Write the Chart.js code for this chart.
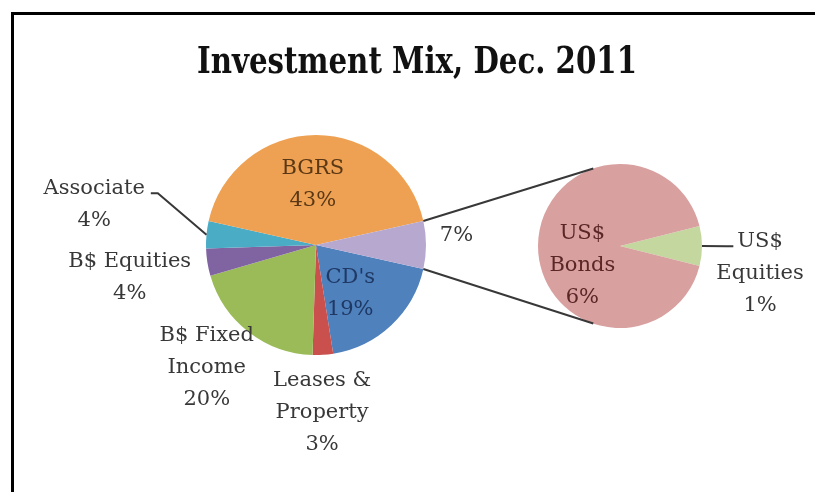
<!DOCTYPE html>
<html>
<head>
<meta charset="utf-8">
<script src="https://cdn.jsdelivr.net/npm/chart.js@4"></script>
<style>
  body { margin: 0; background: #fff; }
  #wrap { position: relative; width: 815px; height: 492px; overflow: hidden; }
  #frame { position: absolute; left: 11px; top: 12px; width: 900px; height: 600px;
           border-left: 3px solid #000; border-top: 3px solid #000; }
  canvas { position: absolute; left: 0; top: 0; }
</style>
</head>
<body>
<div id="wrap">
  <div id="frame"></div>
  <canvas id="main" width="815" height="492"></canvas>
  <canvas id="detail" width="815" height="492"></canvas>
</div>
<script>
// main pie, clockwise starting just below the "other" slice
const mixLabels = ["CD's", "Leases &\nProperty", "B$ Fixed\nIncome", "B$ Equities", "Associate", "BGRS", ""];
const mixValues = [19, 3, 20, 4, 4, 43, 7];
const mixColors = ["#4f81bd", "#c9504d", "#9bbb59", "#8064a2", "#4bacc6", "#eea152", "#b7a8d0"];

// second pie splits the 7% "other" slice
const usLabels = ["US$\nEquities", "US$\nBonds"];
const usValues = [0.55, 6.45];
const usColors = ["#c4d79e", "#d9a0a0"];

const chartTitle = "Investment Mix, Dec. 2011";

// label placement: distance as fraction of radius, angle shift in degrees from slice middle
const mixPlace = [
  { dist: 0.54, shift: 8, color: "#1f3864" },
  { dist: 1.52, shift: 1.5 },
  { dist: 1.49, shift: 4 },
  { dist: 1.72, shift: -1 },
  { dist: 2.05, shift: 5, leader: "right" },
  { dist: 0.55, shift: -3, color: "#5b3815" },
  { dist: 1.28, shift: -3.7 }
];
const usPlace = [
  { dist: 1.74, shift: 11, leader: "left" },
  { dist: 0.52, shift: -28, color: "#5a2626" }
];

const FONT = "21px 'DejaVu Serif', serif";
const LINE_H = 32;
const GREY = "#383838";

function drawLabels(chart, labels, values, place) {
  const ctx = chart.ctx;
  const arcs = chart.getDatasetMeta(0).data;
  ctx.save();
  ctx.font = FONT;
  ctx.textAlign = "center";
  ctx.textBaseline = "middle";
  arcs.forEach((arc, i) => {
    const a = arc.getProps(["x", "y", "startAngle", "endAngle", "outerRadius"], true);
    const p = place[i];
    const mid = (a.startAngle + a.endAngle) / 2;
    const ang = mid + p.shift * Math.PI / 180;
    const cx = a.x + Math.cos(ang) * a.outerRadius * p.dist;
    const cy = a.y + Math.sin(ang) * a.outerRadius * p.dist;
    const lines = (labels[i] ? labels[i].split("\n") : []).concat(Math.round(values[i]) + "%");
    const y0 = cy - (lines.length - 1) * LINE_H / 2;
    ctx.fillStyle = p.color || GREY;
    lines.forEach((t, k) => ctx.fillText(t, cx, y0 + k * LINE_H));

    if (p.leader) {
      const w = ctx.measureText(lines[0]).width;
      const ex = p.leader === "right" ? cx + w / 2 + 6 : cx - w / 2 - 4;
      const ey = y0 + 5;
      const bx = p.leader === "right" ? ex + 7 : ex - 7;
      ctx.strokeStyle = GREY;
      ctx.lineWidth = 2;
      ctx.beginPath();
      ctx.moveTo(a.x + Math.cos(mid) * a.outerRadius, a.y + Math.sin(mid) * a.outerRadius);
      ctx.lineTo(bx, ey);
      ctx.lineTo(ex, ey);
      ctx.stroke();
    }
  });
  ctx.restore();
}

const sum = arr => arr.reduce((s, v) => s + v, 0);

const mainChart = new Chart(document.getElementById("main").getContext("2d"), {
  type: "pie",
  data: {
    labels: mixLabels,
    datasets: [{ data: mixValues, backgroundColor: mixColors, borderWidth: 0 }]
  },
  options: {
    responsive: false,
    animation: false,
    rotation: 90 + mixValues[6] / sum(mixValues) * 180,
    layout: { padding: { left: 206, right: 389, top: 135, bottom: 137 } },
    plugins: { legend: { display: false }, tooltip: { enabled: false } }
  },
  plugins: [{
    id: "mixText",
    afterDraw(chart) {
      const ctx = chart.ctx;
      ctx.save();
      ctx.font = "bold 37px 'DejaVu Serif', serif";
      ctx.fillStyle = "#111";
      ctx.textAlign = "center";
      ctx.textBaseline = "middle";
      // title font is narrower in the original, squeeze to its width
      const w = ctx.measureText(chartTitle).width;
      ctx.translate(417, 63);
      ctx.scale(440 / w, 1);
      ctx.fillText(chartTitle, 0, 0);
      ctx.restore();
      drawLabels(chart, mixLabels, mixValues, mixPlace);
    }
  }]
});

new Chart(document.getElementById("detail").getContext("2d"), {
  type: "pie",
  data: {
    labels: usLabels,
    datasets: [{ data: usValues, backgroundColor: usColors, borderWidth: 0 }]
  },
  options: {
    responsive: false,
    animation: false,
    rotation: 90 - usValues[0] / sum(usValues) * 180,
    layout: { padding: { left: 538, right: 113, top: 164, bottom: 164 } },
    plugins: { legend: { display: false }, tooltip: { enabled: false } }
  },
  plugins: [{
    id: "usText",
    afterDraw(chart) {
      const ctx = chart.ctx;
      // connector lines from the "other" slice to the second pie
      const other = mainChart.getDatasetMeta(0).data[6].getProps(["x", "y", "startAngle", "endAngle", "outerRadius"], true);
      const pie = chart.getDatasetMeta(0).data[0].getProps(["x", "y", "outerRadius"], true);
      const t = 109 * Math.PI / 180;
      ctx.save();
      ctx.strokeStyle = GREY;
      ctx.lineWidth = 2;
      ctx.beginPath();
      ctx.moveTo(other.x + Math.cos(other.startAngle) * other.outerRadius, other.y + Math.sin(other.startAngle) * other.outerRadius);
      ctx.lineTo(pie.x + Math.cos(-t) * pie.outerRadius, pie.y + Math.sin(-t) * pie.outerRadius);
      ctx.moveTo(other.x + Math.cos(other.endAngle) * other.outerRadius, other.y + Math.sin(other.endAngle) * other.outerRadius);
      ctx.lineTo(pie.x + Math.cos(t) * pie.outerRadius, pie.y + Math.sin(t) * pie.outerRadius);
      ctx.stroke();
      ctx.restore();
      drawLabels(chart, usLabels, usValues, usPlace);
    }
  }]
});
</script>
</body>
</html>
